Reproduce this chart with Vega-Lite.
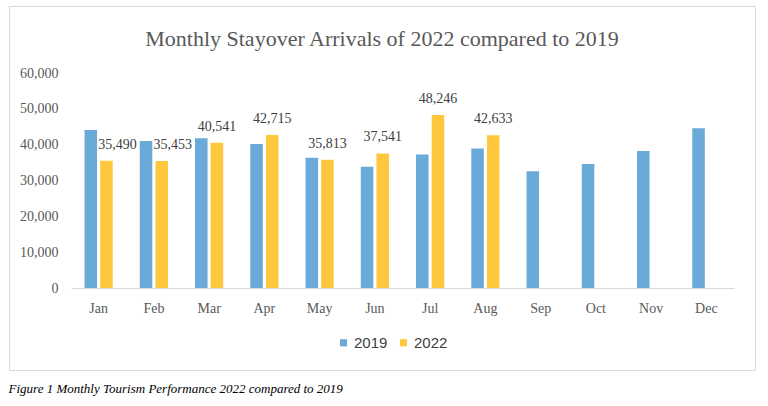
{
  "$schema": "https://vega.github.io/schema/vega-lite/v6.json",
  "padding": {"left": 8, "top": 5, "right": 10, "bottom": 5},
  "title": {
    "text": "Figure 1 Monthly Tourism Performance 2022 compared to 2019",
    "orient": "bottom",
    "anchor": "start",
    "offset": 12,
    "font": "Liberation Serif",
    "fontStyle": "italic",
    "fontWeight": "normal",
    "fontSize": 13,
    "color": "#000000"
  },
  "config": {
    "view": {"stroke": "#d9d9d9", "strokeWidth": 1},
    "font": "Liberation Serif"
  },
  "vconcat": [
    {
      "width": 746,
      "height": 364,
      "title": {
        "text": "Monthly Stayover Arrivals of 2022 compared to 2019",
        "orient": "top",
        "anchor": "middle",
        "offset": -45,
        "font": "Liberation Serif",
        "fontSize": 22,
        "fontWeight": "normal",
        "color": "#595959"
      },
      "data": {
        "values": [
          {"month": "Jan", "year": "2019", "arrivals": 44100},
          {"month": "Jan", "year": "2022", "arrivals": 35490},
          {"month": "Feb", "year": "2019", "arrivals": 41050},
          {"month": "Feb", "year": "2022", "arrivals": 35453},
          {"month": "Mar", "year": "2019", "arrivals": 41800},
          {"month": "Mar", "year": "2022", "arrivals": 40541},
          {"month": "Apr", "year": "2019", "arrivals": 40200},
          {"month": "Apr", "year": "2022", "arrivals": 42715},
          {"month": "May", "year": "2019", "arrivals": 36350},
          {"month": "May", "year": "2022", "arrivals": 35813},
          {"month": "Jun", "year": "2019", "arrivals": 33850},
          {"month": "Jun", "year": "2022", "arrivals": 37541},
          {"month": "Jul", "year": "2019", "arrivals": 37250},
          {"month": "Jul", "year": "2022", "arrivals": 48246},
          {"month": "Aug", "year": "2019", "arrivals": 38900},
          {"month": "Aug", "year": "2022", "arrivals": 42633},
          {"month": "Sep", "year": "2019", "arrivals": 32550},
          {"month": "Oct", "year": "2019", "arrivals": 34580},
          {"month": "Nov", "year": "2019", "arrivals": 38200},
          {"month": "Dec", "year": "2019", "arrivals": 44580}
        ]
      },
      "encoding": {
        "x": {
          "field": "month",
          "type": "nominal",
          "sort": ["Jan", "Feb", "Mar", "Apr", "May", "Jun", "Jul", "Aug", "Sep", "Oct", "Nov", "Dec"],
          "scale": {"range": [62, 725], "paddingInner": 0.49, "paddingOuter": 0.245},
          "axis": {
            "title": null,
            "orient": "bottom",
            "offset": -82,
            "labelAngle": 0,
            "ticks": false,
            "domainColor": "#d9d9d9",
            "domainWidth": 1,
            "labelPadding": 13,
            "labelFont": "Liberation Serif",
            "labelFontSize": 14,
            "labelColor": "#595959"
          }
        },
        "xOffset": {
          "field": "year",
          "type": "nominal",
          "scale": {"paddingInner": 0.2, "paddingOuter": 0}
        },
        "y": {
          "field": "arrivals",
          "type": "quantitative",
          "scale": {"domain": [0, 60000], "range": [282, 67], "nice": false},
          "axis": {
            "title": null,
            "orient": "left",
            "offset": -62,
            "values": [0, 10000, 20000, 30000, 40000, 50000, 60000],
            "format": ",.0f",
            "grid": false,
            "domain": false,
            "ticks": false,
            "labelPadding": 13,
            "labelFont": "Liberation Serif",
            "labelFontSize": 14,
            "labelColor": "#595959"
          }
        }
      },
      "layer": [
        {
          "mark": {"type": "bar"},
          "encoding": {
            "color": {
              "field": "year",
              "type": "nominal",
              "scale": {"domain": ["2019", "2022"], "range": ["#69aad9", "#ffc73e"]},
              "legend": {
                "title": null,
                "orient": "none",
                "direction": "horizontal",
                "legendX": 327,
                "legendY": 329,
                "symbolType": "square",
                "symbolSize": 50,
                "symbolStrokeWidth": 0,
                "labelFont": "Liberation Sans",
                "labelFontSize": 15,
                "labelColor": "#404040",
                "labelOffset": 3,
                "columnPadding": 8
              }
            }
          }
        },
        {
          "transform": [
            {"filter": "datum.year === '2022' && datum.month !== 'Jan' && datum.month !== 'Feb'"}
          ],
          "mark": {
            "type": "text",
            "baseline": "middle",
            "dy": -16,
            "font": "Liberation Serif",
            "fontSize": 14,
            "color": "#404040"
          },
          "encoding": {
            "text": {"field": "arrivals", "type": "quantitative", "format": ","}
          }
        },
        {
          "transform": [
            {"filter": "datum.year === '2022' && (datum.month === 'Jan' || datum.month === 'Feb')"}
          ],
          "mark": {
            "type": "text",
            "baseline": "middle",
            "dy": -16,
            "dx": 11,
            "font": "Liberation Serif",
            "fontSize": 14,
            "color": "#404040"
          },
          "encoding": {
            "text": {"field": "arrivals", "type": "quantitative", "format": ","}
          }
        }
      ]
    }
  ]
}
